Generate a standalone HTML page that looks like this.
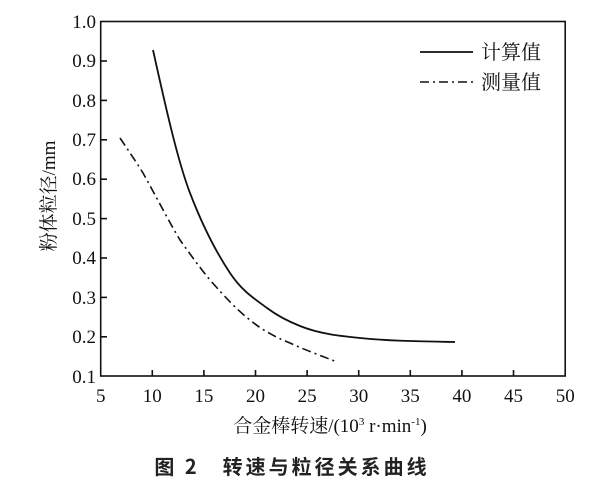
<!DOCTYPE html>
<html><head><meta charset="utf-8"><style>
body{margin:0;background:#fff}
</style></head><body>
<svg width="600" height="500" xmlns="http://www.w3.org/2000/svg" style="display:block">
<g font-family="'Liberation Serif','Noto Serif CJK SC',serif" font-size="19" fill="#111">
<rect x="100.7" y="21.5" width="464.5" height="354.5" fill="none" stroke="#111" stroke-width="1.6"/>
<g stroke="#111" stroke-width="1.6">
<line x1="152.3" y1="376" x2="152.3" y2="370"/><line x1="203.9" y1="376" x2="203.9" y2="370"/>
<line x1="255.5" y1="376" x2="255.5" y2="370"/><line x1="307.1" y1="376" x2="307.1" y2="370"/>
<line x1="358.7" y1="376" x2="358.7" y2="370"/><line x1="410.3" y1="376" x2="410.3" y2="370"/>
<line x1="461.9" y1="376" x2="461.9" y2="370"/><line x1="513.5" y1="376" x2="513.5" y2="370"/>
<line x1="100.7" y1="61" x2="107" y2="61"/><line x1="100.7" y1="100.4" x2="107" y2="100.4"/>
<line x1="100.7" y1="139.8" x2="107" y2="139.8"/><line x1="100.7" y1="179.2" x2="107" y2="179.2"/>
<line x1="100.7" y1="218.6" x2="107" y2="218.6"/><line x1="100.7" y1="258" x2="107" y2="258"/>
<line x1="100.7" y1="297.4" x2="107" y2="297.4"/><line x1="100.7" y1="336.8" x2="107" y2="336.8"/>
</g>
<g text-anchor="middle">
<text x="100.7" y="402">5</text><text x="152.3" y="402">10</text><text x="203.9" y="402">15</text>
<text x="255.5" y="402">20</text><text x="307.1" y="402">25</text><text x="358.7" y="402">30</text>
<text x="410.3" y="402">35</text><text x="461.9" y="402">40</text><text x="513.5" y="402">45</text>
<text x="565.2" y="402">50</text>
</g>
<g text-anchor="end">
<text x="96" y="28">1.0</text><text x="96" y="67">0.9</text><text x="96" y="107">0.8</text>
<text x="96" y="146">0.7</text><text x="96" y="185">0.6</text><text x="96" y="225">0.5</text>
<text x="96" y="264">0.4</text><text x="96" y="304">0.3</text><text x="96" y="343">0.2</text>
<text x="96" y="383">0.1</text>
</g>
<text x="330" y="432" text-anchor="middle">合金棒转速/(10<tspan font-size="11" dy="-7">3</tspan><tspan dy="7"> r·min</tspan><tspan font-size="11" dy="-7">-1</tspan><tspan dy="7">)</tspan></text>
<text transform="translate(55,196) rotate(-90)" text-anchor="middle">粉体粒径/mm</text>
<path d="M153,50 C165.3,105.5 177.7,161 190,193 C203.3,227.7 216.7,253 230,273 C242.3,291.5 254.7,298.75 267,308 C278,316.25 289,321.6 300,326 C320,334 340,336 360,338 C391.7,341.2 423.3,341.4 455,342" fill="none" stroke="#111" stroke-width="1.8"/>
<path d="M120,138 C128,150 135,160 143,173 C157,198 168,220 180,240 C190,254 200,268 210,280 C225,297 237,310 250,320 C262,330 275,337 290,343 C305,350 322,356 337,362" fill="none" stroke="#111" stroke-width="1.6" stroke-dasharray="9,4,2,4"/>
<line x1="420" y1="52" x2="473" y2="52" stroke="#111" stroke-width="1.8"/>
<line x1="420" y1="82" x2="473" y2="82" stroke="#111" stroke-width="1.6" stroke-dasharray="9,4,2,4"/>
<text x="481" y="59" font-size="20">计算值</text>
<text x="481" y="89" font-size="20">测量值</text>
<text x="292" y="474" text-anchor="middle" font-size="20" font-weight="bold" font-family="'Noto Sans CJK SC',sans-serif" letter-spacing="3" fill="#222">图 2　转速与粒径关系曲线</text>
</g>
</svg>
</body></html>
